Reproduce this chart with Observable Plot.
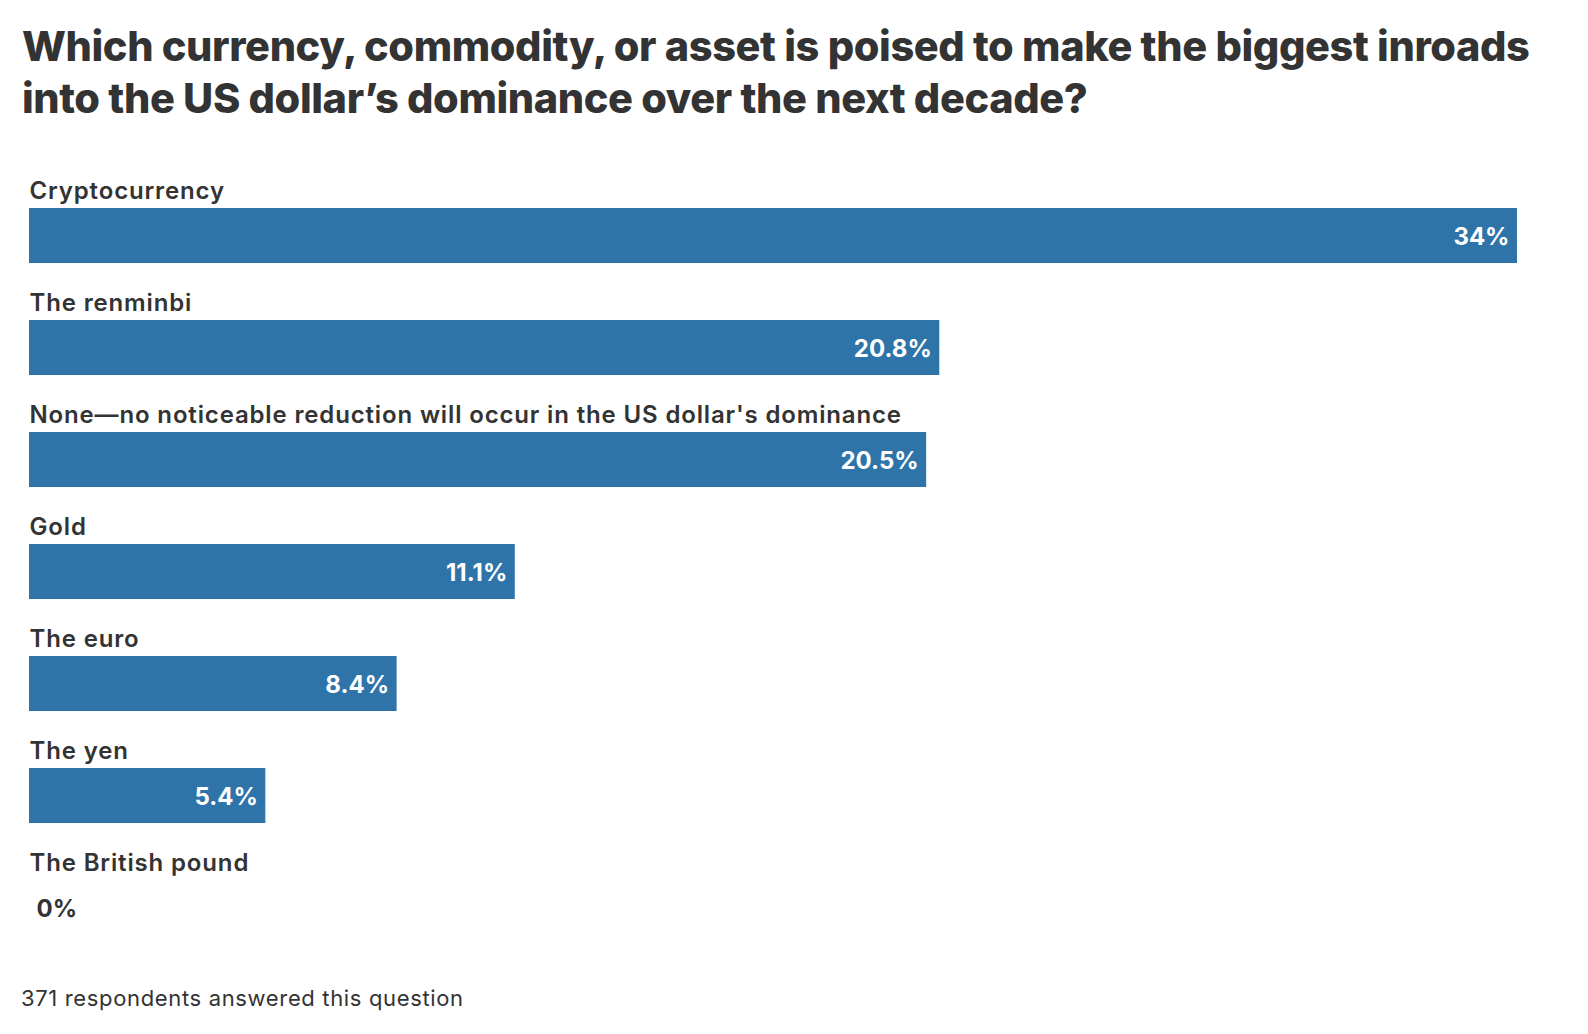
<!DOCTYPE html>
<html>
<head>
<meta charset="utf-8">
<script src="https://cdn.jsdelivr.net/npm/d3@7"></script>
<script src="https://cdn.jsdelivr.net/npm/@observablehq/plot@0.6"></script>
<style>
  html, body { margin: 0; padding: 0; background: #fff; }
  body { width: 1588px; height: 1034px; position: relative; overflow: hidden; font-family: Inter, Lato, sans-serif; color: #333; }
  #title { position: absolute; left: 22px; top: 20px; width: 1566px; font-size: 41.5px; font-weight: 800; line-height: 52px; color: #333; letter-spacing: -0.4px; white-space: nowrap; }
  #chart { position: absolute; left: 0; top: 150px; }
  #chart .cat text, #chart text.cat { letter-spacing: 0.85px; }
  #footer { position: absolute; left: 21px; top: 985px; font-size: 22px; color: #333; letter-spacing: 0.65px; }
</style>
</head>
<body>
<div id="title">Which currency, commodity, or asset is poised to make the biggest inroads<br>into the US dollar’s dominance over the next decade?</div>
<div id="chart"></div>
<div id="footer">371 respondents answered this question</div>
<script>
const categories = [
  "Cryptocurrency",
  "The renminbi",
  "None—no noticeable reduction will occur in the US dollar's dominance",
  "Gold",
  "The euro",
  "The yen",
  "The British pound"
];
const values = [34, 20.8, 20.5, 11.1, 8.4, 5.4, 0];

const data = categories.map((c, i) => ({category: c, value: values[i]}));
const inside = data.filter(d => d.value > 0);
const outside = data.filter(d => d.value === 0);

const chart = Plot.plot({
  width: 1588,
  height: 800,
  marginTop: 58,
  marginBottom: 15,
  marginLeft: 29,
  marginRight: 71,
  style: {fontFamily: "Inter, Lato, sans-serif", background: "transparent"},
  x: {domain: [0, 34], axis: null},
  y: {domain: categories, axis: null, paddingInner: 0.509, paddingOuter: 0},
  marks: [
    Plot.barX(data, {x: "value", y: "category", fill: "#2e74a8"}),
    Plot.text(data, {
      x: 0, y: "category", text: "category",
      textAnchor: "start", lineAnchor: "bottom", dy: -37,
      fill: "#333", fontSize: 24, fontWeight: 600, className: "cat"
    }),
    Plot.text(inside, {
      x: "value", y: "category", text: d => `${d.value}%`,
      textAnchor: "end", dx: -8, dy: 1,
      fill: "white", fontSize: 24, fontWeight: 700
    }),
    Plot.text(outside, {
      x: "value", y: "category", text: d => `${d.value}%`,
      textAnchor: "start", dx: 7, dy: 1,
      fill: "#333", fontSize: 24, fontWeight: 700
    })
  ]
});
document.getElementById("chart").appendChild(chart);
</script>
</body>
</html>
